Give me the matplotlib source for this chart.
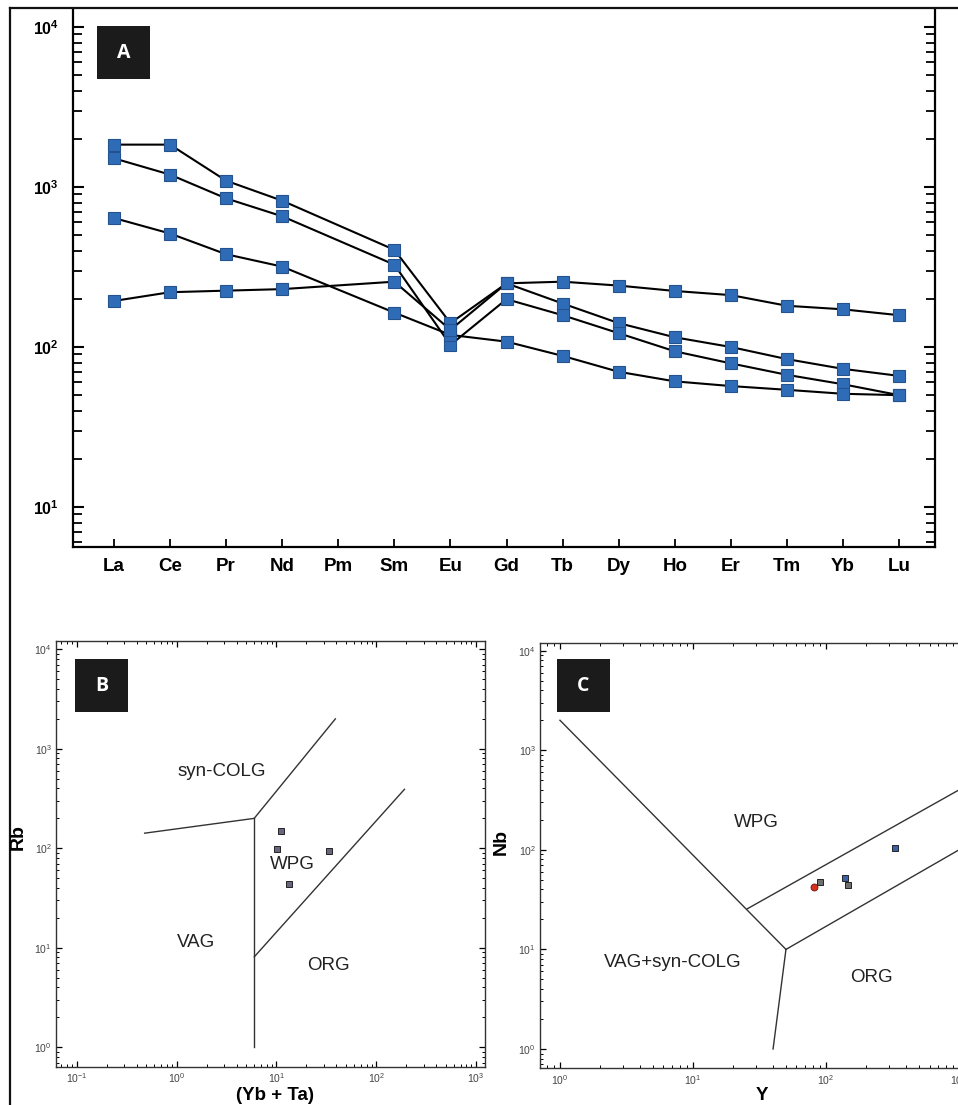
import numpy as np
import matplotlib
matplotlib.use("Agg")
import matplotlib.pyplot as plt
from matplotlib.lines import Line2D
from matplotlib.patches import Rectangle
from matplotlib.ticker import LogLocator, FixedLocator, NullFormatter

plt.rcParams['font.family'] = ['Liberation Sans', 'DejaVu Sans']
plt.rcParams['mathtext.fontset'] = 'custom'
plt.rcParams['mathtext.rm'] = 'Liberation Sans'
plt.rcParams['mathtext.bf'] = 'Liberation Sans:bold'

# ---------------- data ----------------
# Chondrite-normalised REE patterns (Pm not analysed)
ree = ['La', 'Ce', 'Pr', 'Nd', 'Pm', 'Sm', 'Eu', 'Gd', 'Tb', 'Dy', 'Ho', 'Er', 'Tm', 'Yb', 'Lu']
nan = np.nan
sample_1 = [1840, 1840, 1095, 821, nan, 405, 141, 250, 187, 141, 115, 100, 84, 73, 66]
sample_2 = [1511, 1195, 849, 656, nan, 327, 103, 199, 158, 122, 94, 79, 67, 58.5, 50]
sample_3 = [640, 512, 380, 318, nan, 164, 119, 108, 88, 70, 61, 57, 54, 51, 50]
sample_4 = [194, 220, 225, 230, nan, 256, 128, 250, 256, 242, 224, 211, 181, 172, 158]

# Rb vs (Yb + Ta)
ybta = [11.2, 10.1, 33.8, 13.4]
rb = [150, 98, 94, 43.6]

# Nb vs Y
y_red = [80.7]
nb_red = [42.2]
y_gray = [89.6, 146]
nb_gray = [47.4, 44.7]
y_blue = [138, 328]
nb_blue = [52.5, 105]

# Tectonic discrimination boundaries (Pearce et al., 1984)
rb_bounds = [
    ([0.48, 6.0], [142, 200]),
    ([6.0, 39], [200, 2000]),
    ([6.0, 6.0], [200, 1.0]),
    ([6.0, 192], [8.1, 392]),
]
nb_bounds = [
    ([1.0, 50], [2000, 10]),
    ([50, 1000], [10, 100]),
    ([50, 40], [10, 1.0]),
    ([25.5, 1000], [25.5, 400]),
]

# ---------------- figure ----------------
W, H = 958, 1105
fig = plt.figure(figsize=(W / 100, H / 100), dpi=100)


def pbox(l, t, r, b):
    return [l / W, 1 - b / H, (r - l) / W, (b - t) / H]


def ftxt(x, y, s, **kw):
    fig.text(x / W, 1 - y / H, s, **kw)


def label_box(l, t, letter):
    fig.add_artist(Rectangle((l / W, 1 - (t + 53) / H), 53 / W, 53 / H,
                             transform=fig.transFigure, facecolor='#1b1b1b',
                             edgecolor='none', zorder=10))
    fig.text((l + 26.5) / W, 1 - (t + 27) / H, letter, color='white',
             fontsize=14, fontweight='bold', family='Open Sans',
             ha='center', va='center', zorder=11)


def exp_label(v, bold=False):
    e = int(round(np.log10(v)))
    if bold:
        return r'$\mathbf{10^{%d}}$' % e
    return r'$10^{%d}$' % e


# ---- panel A: REE spider diagram ----
axA = fig.add_axes(pbox(73, 9, 935, 547))
xpos = np.arange(len(ree))
for s in (sample_1, sample_2, sample_3, sample_4):
    arr = np.array(s, dtype=float)
    ok = ~np.isnan(arr)
    axA.plot(xpos[ok], arr[ok], color='black', lw=1.5, marker='s', ms=8.5,
             mfc='#2f6cb8', mec='#24528c', mew=0.8, zorder=3)
axA.set_yscale('log')
axA.set_ylim(10 ** 0.75, 10 ** 4.1125)
axA.set_xlim(-0.73, 14.64)
axA.set_xticks(xpos)
axA.set_xticklabels(ree, fontsize=13.5, fontweight='bold')
axA.yaxis.set_major_locator(FixedLocator([10, 100, 1000, 10000]))
axA.set_yticklabels([exp_label(v, True) for v in [10, 100, 1000, 10000]], fontsize=11.5)
axA.yaxis.set_minor_locator(LogLocator(base=10, subs=np.arange(2, 10)))
axA.yaxis.set_minor_formatter(NullFormatter())
axA.tick_params(axis='y', which='major', direction='in', length=8, width=1.5,
                right=True, pad=10)
axA.tick_params(axis='y', which='minor', direction='in', length=6.5, width=1.3,
                right=True)
axA.tick_params(axis='x', which='major', direction='in', length=6, width=1.3, pad=8)
for sp in axA.spines.values():
    sp.set_linewidth(1.6)
axA.spines['top'].set_visible(False)
label_box(97, 26, 'A')


# ---- discrimination panels ----
def setup_disc(ax, xlim, ylim, xmaj, ymaj):
    ax.set_xscale('log')
    ax.set_yscale('log')
    ax.set_xlim(*xlim)
    ax.set_ylim(*ylim)
    ax.xaxis.set_major_locator(FixedLocator(xmaj))
    ax.yaxis.set_major_locator(FixedLocator(ymaj))
    ax.set_xticklabels([exp_label(v) for v in xmaj])
    ax.set_yticklabels([exp_label(v) for v in ymaj])
    for axis in (ax.xaxis, ax.yaxis):
        axis.set_minor_locator(LogLocator(base=10, subs=np.arange(2, 10)))
        axis.set_minor_formatter(NullFormatter())
    ax.tick_params(which='major', direction='in', length=4.5, width=0.9,
                   top=True, right=True, labelsize=7.5, labelcolor='#444444')
    ax.tick_params(which='minor', direction='in', length=2.5, width=0.7,
                   top=True, right=True)
    ax.tick_params(axis='x', which='major', pad=3.5)
    ax.tick_params(axis='y', which='major', pad=3)
    for sp in ax.spines.values():
        sp.set_linewidth(1.0)
        sp.set_color('#333333')


axB = fig.add_axes(pbox(56, 640.7, 485, 1066.7))
setup_disc(axB, (10 ** -1.207, 10 ** 3.09), (10 ** -0.195, 10 ** 4.087),
           [0.1, 1, 10, 100, 1000], [1, 10, 100, 1000, 10000])
for xs, ys in rb_bounds:
    axB.plot(xs, ys, color='#333333', lw=1.0)
axB.plot(ybta, rb, ls='none', marker='s', ms=4.5, mfc='#6c6580', mec='#222222',
         mew=0.7, zorder=3)
tkw = dict(fontsize=13.5, color='#222222', ha='center', va='center')
axB.text(2.86, 590, 'syn-COLG', **tkw)
axB.text(14.4, 69.5, 'WPG', **tkw)
axB.text(1.58, 11.2, 'VAG', **tkw)
axB.text(33, 6.6, 'ORG', **tkw)
label_box(75, 659, 'B')
ftxt(18, 837, 'Rb', fontsize=14, fontweight='bold', rotation=90,
     ha='center', va='center')
ftxt(275, 1104.5, '(Yb + Ta)', fontsize=13.5, fontweight='bold',
     ha='center', va='bottom')

axC = fig.add_axes(pbox(540, 642.7, 975, 1068.3))
setup_disc(axC, (10 ** -0.15, 10 ** 3.12), (10 ** -0.194, 10 ** 4.08),
           [1, 10, 100, 1000], [1, 10, 100, 1000, 10000])
for xs, ys in nb_bounds:
    axC.plot(xs, ys, color='#333333', lw=1.0)
axC.plot(y_gray, nb_gray, ls='none', marker='s', ms=4.5, mfc='#6f6f72',
         mec='#222222', mew=0.7, zorder=3)
axC.plot(y_blue, nb_blue, ls='none', marker='s', ms=4.5, mfc='#3d5fa6',
         mec='#222222', mew=0.7, zorder=3)
axC.plot(y_red, nb_red, ls='none', marker='o', ms=5, mfc='#d8301e',
         mec='#5a1a10', mew=0.6, zorder=4)
axC.text(29.8, 190, 'WPG', **tkw)
axC.text(7.08, 7.46, 'VAG+syn-COLG', **tkw)
axC.text(218, 5.2, 'ORG', **tkw)
label_box(557, 659, 'C')
ftxt(501, 842, 'Nb', fontsize=14, fontweight='bold', rotation=90,
     ha='center', va='center')
ftxt(762, 1104.5, 'Y', fontsize=13.5, fontweight='bold', ha='center', va='bottom')

# outer frame
fig.add_artist(Line2D([9.5 / W, 9.5 / W], [0, 1 - 8 / H], color='#111111',
                      lw=1.6, transform=fig.transFigure))
fig.add_artist(Line2D([9.5 / W, 1], [1 - 8 / H, 1 - 8 / H], color='#111111',
                      lw=1.6, transform=fig.transFigure))

fig.savefig('out.png', dpi=100)
